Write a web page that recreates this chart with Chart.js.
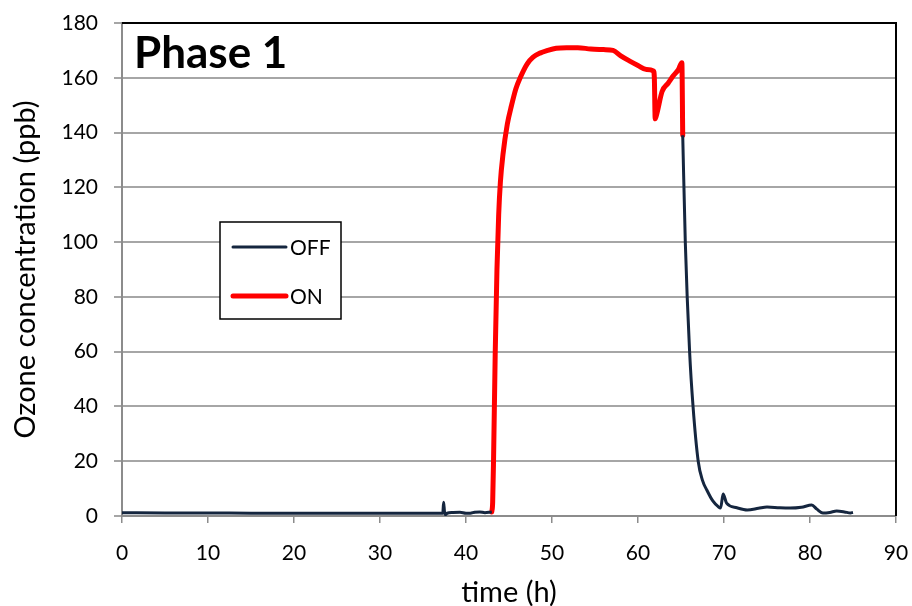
<!DOCTYPE html>
<html>
<head>
<meta charset="utf-8">
<script src="https://cdn.jsdelivr.net/npm/chart.js@4.4.0/dist/chart.umd.min.js"></script>
<style>
  html, body { margin: 0; padding: 0; background: #fff; }
  #wrap { width: 912px; height: 606px; }
</style>
</head>
<body>
<div id="wrap"><canvas id="ozone" width="912" height="606"></canvas></div>
<script>
// Ozone, Phase 1
const offBeforeTime = [0, 5, 10, 15, 20, 25, 30, 35, 37.3, 37.4, 37.5, 37.6, 37.8, 38.5, 39.3, 40.0, 40.5, 41.0, 41.6, 42.2, 42.8, 43.0];
const offBeforePpb  = [1.2, 1.1, 1.1, 1.0, 1.0, 1.0, 1.0, 1.0, 1.0, 5.0, 1.5, 0.5, 1.0, 1.3, 1.4, 1.0, 1.0, 1.4, 1.5, 1.2, 1.4, 1.5];

const onTime = [43.0, 43.1, 43.2, 43.4, 43.6, 43.8, 44.0, 44.3, 44.8, 45.3, 45.8, 46.3, 47.1, 47.8, 48.6, 49.5, 50.5, 51.7, 53, 54.5, 56, 57.1, 58, 59.1, 60, 61, 61.8, 61.9, 62.0, 62.2, 62.8, 63.5, 64.1, 64.7, 65.1, 65.2];
const onPpb  = [1.5, 5, 20, 60, 90, 110, 122, 132, 143, 150, 156, 160, 165, 167.5, 169, 170, 170.8, 171, 171, 170.5, 170.3, 170, 168, 166, 164.5, 163, 162.5, 160, 145, 147, 155, 158, 160.7, 163, 165.5, 139];

const offAfterTime = [65.2, 65.5, 66.0, 66.4, 67.0, 67.5, 68.0, 68.7, 69.3, 69.6, 69.9, 70.3, 71.5, 72.7, 74, 75, 76.5, 77.7, 79, 80.2, 80.8, 81.5, 82.3, 83.1, 84, 84.7, 85];
const offAfterPpb  = [139, 100, 60, 40, 20, 13, 9.5, 5.5, 3.5, 2.9, 8, 4.7, 3, 2.2, 2.8, 3.3, 3, 2.9, 3.2, 4, 2.5, 1.1, 1.3, 1.8, 1.5, 1.1, 1.3];

const xTicks = [0, 10, 20, 30, 40, 50, 60, 70, 80, 90];
const yTicks = [0, 20, 40, 60, 80, 100, 120, 140, 160, 180];

const OFF_COLOR = '#15263f';
const ON_COLOR = '#ff0000';
const FONT = 'Lato, Carlito, "Open Sans", sans-serif';

function pts(xs, ys) {
  return xs.map((x, i) => ({ x: x, y: ys[i] }));
}

const frameAndLegend = {
  id: 'frameAndLegend',
  afterDraw(chart) {
    const c = chart.ctx;
    const a = chart.chartArea;
    c.save();
    // top + right border
    c.strokeStyle = '#000';
    c.lineWidth = 2;
    c.beginPath();
    c.moveTo(a.left, a.top);
    c.lineTo(a.right, a.top);
    c.lineTo(a.right, a.bottom);
    c.stroke();

    // Phase 1 label
    c.fillStyle = '#000';
    c.font = 'bold 44px ' + FONT;
    c.textBaseline = 'alphabetic';
    c.textAlign = 'left';
    c.fillText('Phase 1', a.left + 12, a.top + 45);

    // legend box
    const bx = 220, by = 222, bw = 121, bh = 97;
    c.fillStyle = '#fff';
    c.fillRect(bx, by, bw, bh);
    c.strokeStyle = '#000';
    c.lineWidth = 1.5;
    c.strokeRect(bx, by, bw, bh);

    c.lineCap = 'round';
    c.strokeStyle = OFF_COLOR;
    c.lineWidth = 3;
    c.beginPath(); c.moveTo(233, 247); c.lineTo(286, 247); c.stroke();
    c.strokeStyle = ON_COLOR;
    c.lineWidth = 5;
    c.beginPath(); c.moveTo(233, 296); c.lineTo(286, 296); c.stroke();

    c.fillStyle = '#000';
    c.font = '21px ' + FONT;
    c.textBaseline = 'middle';
    c.fillText('OFF', 290, 248);
    c.fillText('ON', 290, 297);
    c.restore();
  }
};

const ctx = document.getElementById('ozone');

new Chart(ctx, {
  type: 'line',
  data: {
    datasets: [
      {
        label: 'OFF',
        data: pts(offBeforeTime, offBeforePpb),
        borderColor: OFF_COLOR,
        borderWidth: 3,
        pointRadius: 0,
        cubicInterpolationMode: 'monotone'
      },
      {
        label: 'OFF',
        data: pts(offAfterTime, offAfterPpb),
        borderColor: OFF_COLOR,
        borderWidth: 3,
        pointRadius: 0,
        cubicInterpolationMode: 'monotone'
      },
      {
        label: 'ON',
        data: pts(onTime, onPpb),
        borderColor: ON_COLOR,
        borderWidth: 5,
        pointRadius: 0,
        borderCapStyle: 'round',
        borderJoinStyle: 'round',
        cubicInterpolationMode: 'monotone'
      }
    ]
  },
  options: {
    responsive: false,
    animation: false,
    layout: { padding: { top: 23, right: 16, left: 0, bottom: 0 } },
    plugins: {
      legend: { display: false },
      tooltip: { enabled: false }
    },
    scales: {
      x: {
        type: 'linear',
        min: 0,
        max: 90,
        afterBuildTicks: (s) => { s.ticks = xTicks.map(v => ({ value: v })); },
        afterFit: (s) => { s.height = 90; s.paddingLeft = 0; s.paddingRight = 0; },
        grid: { drawOnChartArea: false, color: '#8c8c8c', lineWidth: 1.5, tickLength: 7 },
        border: { color: '#8c8c8c', width: 2 },
        ticks: { color: '#000', font: { family: FONT, size: 21 }, padding: 18, maxRotation: 0 },
        title: { display: true, text: 'time (h)', color: '#000', font: { family: FONT, size: 29 }, padding: { top: 0, bottom: -4 } }
      },
      y: {
        min: 0,
        max: 180,
        afterBuildTicks: (s) => { s.ticks = yTicks.map(v => ({ value: v })); },
        afterFit: (s) => { s.width = 122; s.paddingTop = 0; s.paddingBottom = 0; },
        grid: { color: '#a6a6a6', lineWidth: 2, tickLength: 8 },
        border: { color: '#8c8c8c', width: 2 },
        ticks: { color: '#000', font: { family: FONT, size: 21 }, padding: 16 },
        title: { display: true, text: 'Ozone concentration (ppb)', color: '#000', font: { family: FONT, size: 29 }, padding: { top: 8, bottom: 0 } }
      }
    }
  },
  plugins: [frameAndLegend]
});
</script>
</body>
</html>
